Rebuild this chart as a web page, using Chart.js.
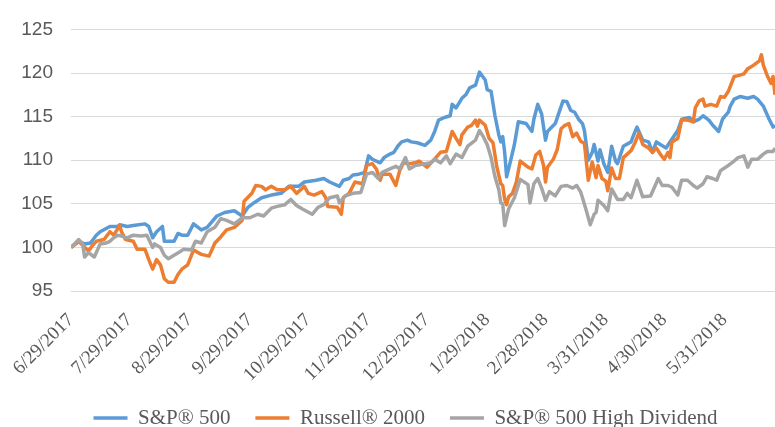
<!DOCTYPE html>
<html>
<head>
<meta charset="utf-8">
<script src="https://cdn.jsdelivr.net/npm/chart.js@4.4.1/dist/chart.umd.min.js"></script>
<style>
    html, body { margin: 0; padding: 0; background: #fff; }
    #wrap { width: 775px; height: 427px; }
</style>
</head>
<body>
<div id="wrap"><canvas id="chart" width="775" height="427"></canvas></div>
<script>
// x = calendar days since 6/29/2017, y = index level (start = 100)
const spDays = [0, 4, 7, 10, 13, 15, 20, 24, 25, 29, 32, 38, 40, 42, 44, 47, 48, 53, 55, 57, 60, 63, 67, 70, 75, 79, 84, 88, 91, 94, 98, 103, 108, 112, 117, 120, 126, 130, 133, 138, 140, 143, 145, 148, 151, 153, 155, 159, 161, 164, 166, 168, 170, 173, 175, 178, 182, 185, 187, 189, 192, 195, 196, 198, 201, 203, 205, 208, 210, 213, 214, 216, 218, 220, 221, 222, 223, 224, 226, 228, 230, 234, 237, 238, 240, 242, 244, 245, 249, 253, 255, 257, 259, 261, 263, 264, 266, 268, 269, 271, 272, 274, 276, 278, 280, 281, 284, 288, 289, 291, 294, 297, 299, 301, 303, 306, 308, 312, 314, 318, 320, 323, 325, 328, 330, 333, 335, 338, 339, 341, 344, 348, 351, 353, 356, 357, 359, 361, 362];
const spVals = [100.0, 100.7, 100.4, 100.5, 101.4, 101.8, 102.4, 102.4, 102.6, 102.4, 102.5, 102.7, 102.4, 101.1, 101.8, 102.4, 100.7, 100.7, 101.6, 101.4, 101.4, 102.7, 102.0, 102.3, 103.6, 104.0, 104.2, 103.6, 104.6, 105.1, 105.7, 106.0, 106.2, 107.0, 107.0, 107.5, 107.7, 107.9, 107.5, 107.0, 107.7, 107.9, 108.3, 108.4, 108.6, 110.5, 110.1, 109.7, 110.3, 110.7, 110.9, 111.6, 112.1, 112.3, 112.1, 112.0, 111.7, 112.3, 113.3, 114.6, 114.9, 115.1, 116.4, 116.0, 117.1, 117.5, 118.3, 118.6, 120.1, 119.2, 118.1, 117.9, 115.1, 112.9, 112.1, 112.7, 110.9, 108.1, 109.9, 111.8, 114.4, 114.2, 113.3, 114.7, 116.4, 115.3, 112.3, 113.3, 114.2, 116.8, 116.7, 115.7, 115.5, 114.7, 114.2, 113.4, 110.0, 110.9, 111.8, 109.9, 111.2, 109.6, 108.6, 111.6, 109.9, 109.6, 111.6, 112.1, 112.7, 113.8, 112.3, 112.1, 110.9, 112.1, 111.8, 111.4, 112.1, 113.4, 114.7, 114.9, 114.4, 114.7, 115.1, 114.6, 114.0, 113.3, 114.7, 115.5, 116.2, 117.0, 117.3, 117.1, 117.3, 117.0, 116.2, 115.7, 114.7, 113.8, 114.0];

const rutDays = [0, 4, 7, 9, 11, 13, 17, 20, 22, 25, 26, 28, 32, 34, 38, 40, 42, 44, 46, 48, 50, 53, 55, 57, 60, 63, 67, 71, 74, 77, 80, 84, 88, 89, 93, 95, 98, 100, 103, 106, 110, 113, 116, 120, 122, 125, 129, 131, 132, 137, 139, 140, 143, 146, 150, 152, 155, 157, 159, 160, 164, 167, 169, 171, 174, 177, 179, 183, 186, 190, 193, 196, 198, 200, 201, 204, 206, 208, 209, 210, 213, 215, 217, 219, 221, 222, 223, 224, 225, 227, 229, 231, 235, 237, 239, 241, 243, 244, 245, 248, 250, 252, 254, 256, 258, 260, 262, 264, 266, 268, 270, 271, 273, 275, 276, 278, 280, 282, 284, 288, 290, 292, 294, 297, 299, 301, 303, 305, 307, 308, 309, 312, 314, 317, 320, 321, 323, 325, 326, 329, 332, 334, 336, 338, 341, 343, 346, 348, 351, 354, 355, 356, 358, 360, 361, 362];
const rutVals = [100.0, 100.7, 100.0, 99.6, 100.2, 100.7, 100.9, 101.8, 101.4, 102.5, 101.8, 100.9, 100.7, 99.8, 99.8, 98.6, 97.5, 98.6, 98.0, 96.4, 96.0, 96.0, 96.9, 97.5, 98.0, 99.7, 99.2, 99.0, 100.5, 101.2, 102.0, 102.3, 103.1, 105.3, 106.2, 107.1, 107.0, 106.6, 107.0, 106.6, 106.6, 107.0, 106.2, 107.0, 106.2, 106.0, 106.4, 105.7, 104.7, 104.6, 103.8, 105.7, 106.2, 107.5, 107.3, 109.4, 109.6, 109.0, 107.7, 108.4, 108.4, 107.1, 108.8, 109.7, 109.6, 109.7, 109.9, 109.2, 109.9, 110.9, 111.0, 113.3, 112.5, 111.8, 112.9, 113.8, 114.0, 114.6, 113.9, 114.6, 114.0, 112.5, 112.0, 109.2, 107.3, 107.1, 105.5, 104.9, 105.8, 106.2, 107.5, 109.9, 109.2, 109.0, 110.6, 111.0, 109.4, 107.5, 109.2, 110.1, 111.2, 113.6, 114.0, 114.2, 112.7, 113.1, 112.2, 111.9, 107.7, 109.8, 108.0, 109.4, 107.9, 107.6, 106.5, 109.1, 107.9, 107.9, 110.3, 111.1, 112.0, 113.1, 111.8, 111.4, 110.9, 111.4, 110.7, 110.1, 110.9, 110.3, 112.1, 112.5, 114.6, 114.6, 114.4, 116.0, 116.8, 117.0, 116.2, 116.4, 116.2, 117.3, 117.2, 117.9, 119.6, 119.7, 119.9, 120.5, 120.9, 121.4, 122.1, 120.9, 119.7, 118.8, 119.6, 117.5];

const hdDays = [0, 4, 6, 7, 9, 12, 15, 18, 20, 22, 24, 26, 29, 32, 36, 39, 42, 43, 46, 48, 50, 53, 56, 58, 62, 64, 67, 70, 74, 77, 80, 84, 88, 92, 96, 99, 103, 106, 110, 113, 116, 119, 124, 127, 130, 133, 137, 138, 141, 145, 149, 152, 155, 158, 160, 164, 167, 169, 172, 174, 177, 180, 185, 187, 190, 193, 195, 198, 201, 204, 208, 210, 212, 214, 216, 218, 220, 221, 222, 223, 225, 228, 231, 235, 236, 238, 240, 242, 244, 246, 249, 252, 255, 258, 260, 262, 263, 265, 267, 269, 270, 271, 274, 276, 278, 281, 284, 286, 288, 291, 294, 298, 302, 304, 307, 309, 312, 314, 317, 320, 322, 325, 327, 330, 332, 334, 338, 341, 343, 346, 348, 350, 353, 356, 358, 361, 362];
const hdVals = [100.0, 100.9, 100.4, 98.9, 99.4, 98.9, 100.4, 100.5, 100.7, 101.1, 101.4, 101.3, 101.1, 101.4, 101.3, 101.4, 100.0, 100.4, 100.0, 99.1, 98.7, 99.1, 99.5, 99.8, 99.7, 100.7, 100.5, 101.8, 102.3, 103.3, 103.1, 102.7, 103.4, 103.4, 103.8, 103.6, 104.5, 104.7, 104.9, 105.5, 104.8, 104.4, 103.8, 104.6, 104.9, 105.7, 105.9, 105.1, 105.9, 106.2, 106.3, 108.4, 108.6, 107.9, 108.6, 109.0, 109.3, 109.0, 110.3, 109.0, 109.4, 109.5, 109.7, 110.1, 109.7, 110.5, 109.6, 110.7, 110.3, 111.6, 112.3, 113.4, 112.7, 111.8, 110.3, 108.1, 106.6, 105.1, 105.0, 102.5, 104.4, 105.7, 107.8, 107.2, 105.1, 107.3, 107.9, 106.8, 105.4, 106.4, 105.9, 107.0, 107.1, 106.8, 107.1, 106.4, 105.7, 104.2, 102.6, 103.8, 104.0, 105.4, 104.8, 104.2, 106.7, 105.5, 105.5, 106.2, 105.7, 107.7, 105.8, 105.9, 107.9, 107.1, 107.1, 106.9, 106.0, 107.7, 107.7, 107.1, 106.8, 107.3, 108.1, 107.9, 107.7, 108.8, 109.4, 109.9, 110.3, 110.5, 109.2, 110.1, 110.1, 110.7, 111.0, 111.0, 111.4];

const tickDays = [0, 30, 61, 92, 122, 153, 183, 214, 244, 275, 305, 336];
const tickLabels = ['6/29/2017', '7/29/2017', '8/29/2017', '9/29/2017', '10/29/2017', '11/29/2017',
    '12/29/2017', '1/29/2018', '2/28/2018', '3/31/2018', '4/30/2018', '5/31/2018'];

const seriesNames = ['S&P® 500', 'Russell® 2000', 'S&P® 500 High Dividend'];
const seriesColors = ['#5B9BD5', '#ED7D31', '#A5A5A5'];

const serif = "'Times New Roman', 'Liberation Serif', serif";
const plotBottom = 291;   // pixel row of the 95 gridline
const legendTextY = 418;  // centre line of the legend text
const legendFontSize = 21;

function toPoints(days, vals) {
    return days.map((d, i) => ({x: d, y: vals[i]}));
}

function makeDataset(idx, days, vals, order) {
    return {
        label: seriesNames[idx],
        data: toPoints(days, vals),
        borderColor: seriesColors[idx],
        backgroundColor: seriesColors[idx],
        borderWidth: 3.5,
        borderJoinStyle: 'round',
        pointRadius: 0,
        pointHoverRadius: 0,
        tension: 0,
        order: order
    };
}

// push the legend row down (and a bit right) to where the original one sits,
// and let the date labels run down past the squeezed x-axis box without being clipped
const legendNudge = {
    id: 'legendNudge',
    afterLayout(chart) {
        const lg = chart.legend;
        const dy = legendTextY - (lg.top + lg.options.labels.padding + legendFontSize / 2);
        lg.top += dy;
        lg.bottom += dy;
        lg.left += 18;
        lg.right += 18;
        chart.scales.x.bottom = lg.top;
    }
};

new Chart(document.getElementById('chart'), {
    type: 'line',
    data: {
        datasets: [
            makeDataset(0, spDays, spVals, 3),
            makeDataset(1, rutDays, rutVals, 2),
            makeDataset(2, hdDays, hdVals, 1)
        ]
    },
    options: {
        responsive: false,
        animation: false,
        layout: {
            padding: {top: 20, right: 0, bottom: 0, left: 0}
        },
        scales: {
            x: {
                type: 'linear',
                min: 0,
                max: 362,
                grid: {display: false},
                border: {display: false},
                afterBuildTicks: function (scale) {
                    scale.ticks = tickDays.map(v => ({value: v}));
                },
                afterFit: function (scale) {
                    scale.height = scale.chart.height - plotBottom - scale.chart.legend.height;
                },
                ticks: {
                    autoSkip: false,
                    minRotation: 45,
                    maxRotation: 45,
                    padding: 10,
                    color: '#595959',
                    font: {family: serif, size: 19},
                    callback: function (value) {
                        const i = tickDays.indexOf(value);
                        return i >= 0 ? tickLabels[i] : '';
                    }
                }
            },
            y: {
                min: 95,
                max: 125,
                grid: {color: '#D9D9D9', lineWidth: 1, drawTicks: false},
                border: {display: false},
                afterFit: function (scale) {
                    scale.width = 71;
                },
                ticks: {
                    stepSize: 5,
                    padding: 18,
                    color: '#595959',
                    font: {family: "'Liberation Sans', Arial, sans-serif", size: 19}
                }
            }
        },
        plugins: {
            tooltip: {enabled: false},
            legend: {
                position: 'bottom',
                labels: {
                    usePointStyle: true,
                    pointStyle: 'line',
                    pointStyleWidth: 34,
                    padding: 25,
                    color: '#595959',
                    font: {family: serif, size: legendFontSize},
                    sort: (a, b) => a.datasetIndex - b.datasetIndex
                }
            }
        }
    },
    plugins: [legendNudge]
});
</script>
</body>
</html>
